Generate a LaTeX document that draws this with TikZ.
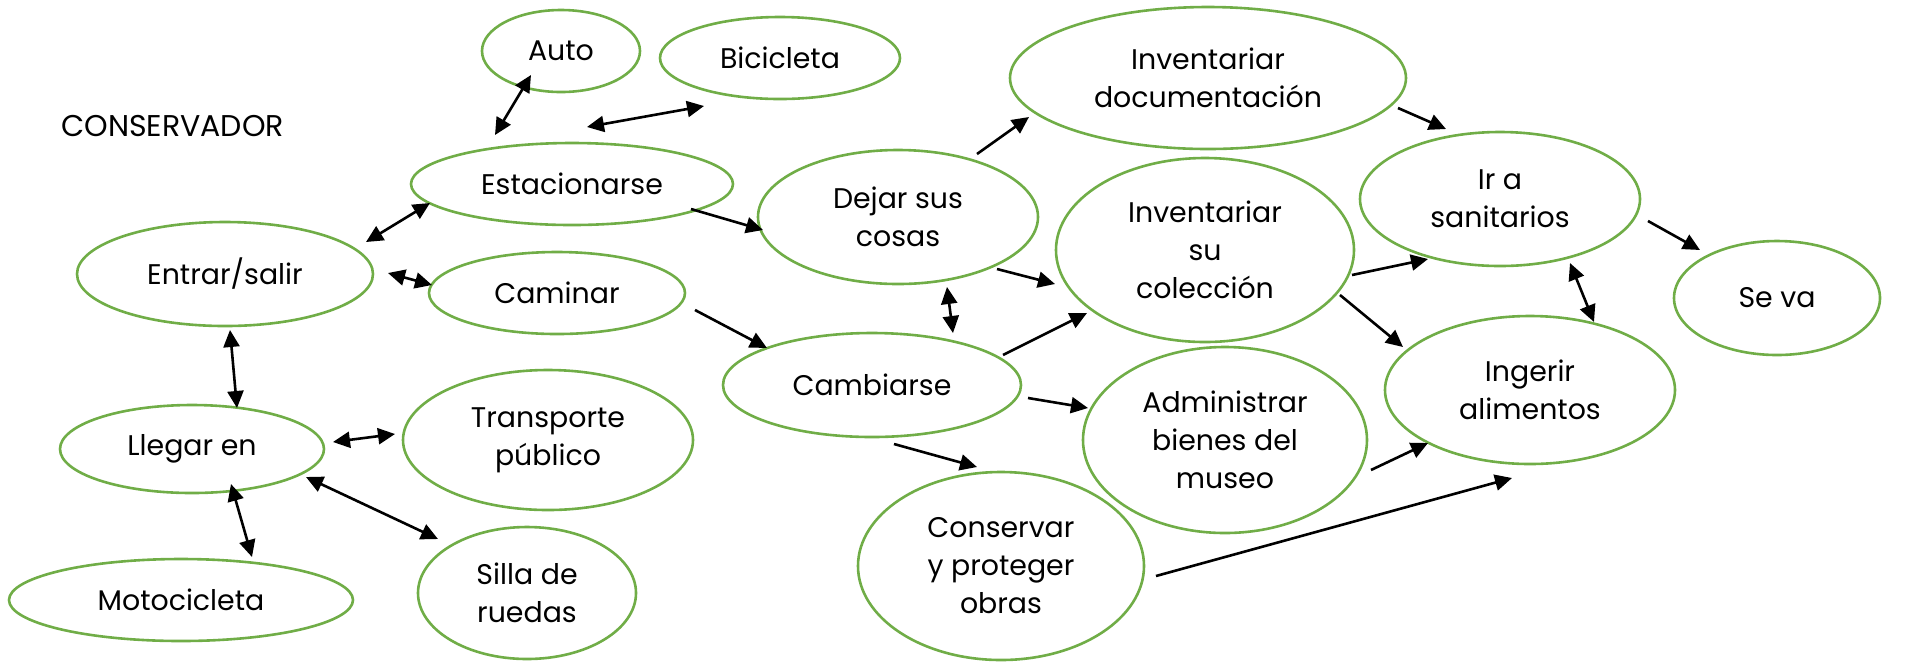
\documentclass[tikz,border=0pt]{standalone}
\usepackage{fontspec}
\setmainfont{Poppins}
\usetikzlibrary{arrows.meta,shapes.geometric}
\definecolor{egreen}{HTML}{70AD47}
\begin{document}
\begin{tikzpicture}[x=0.5pt,y=-0.5pt,
  el/.style={ellipse, draw=egreen, line width=1.3pt, inner sep=0pt, align=center,
             font=\fontsize{14.2}{19}\selectfont},
  lbl/.style={inner sep=0pt, font=\fontsize{15}{19}\selectfont},
  arr/.style={-{Triangle[length=8.5pt,width=8pt]}, line width=1.3pt},
  barr/.style={{Triangle[length=8.5pt,width=8pt]}-{Triangle[length=8.5pt,width=8pt]}, line width=1.3pt}]
\useasboundingbox (0,0) rectangle (1918,661);

\node[lbl, anchor=west] (title) at (61,126) {CONSERVADOR};

\node[el, minimum width=79pt,  minimum height=41pt] (auto)    at (561,51)   {Auto};
\node[el, minimum width=120pt, minimum height=41pt] (bici)    at (780,58)   {Bicicleta};
\node[el, minimum width=161pt, minimum height=41pt] (est)     at (572,184)  {Estacionarse};
\node[el, minimum width=148pt, minimum height=52pt] (entrar)  at (225,274)  {Entrar/salir};
\node[el, minimum width=128pt, minimum height=41pt] (caminar) at (557,293)  {Caminar};
\node[el, minimum width=140pt, minimum height=67pt] (dejar)   at (898,217)  {Dejar sus\\cosas};
\node[el, minimum width=198pt, minimum height=71pt] (invdoc)  at (1208,78)  {Inventariar\\documentación};
\node[el, minimum width=149pt, minimum height=92pt] (invcol)  at (1205,250) {Inventariar\\su\\colección};
\node[el, minimum width=140pt, minimum height=67pt] (ira)     at (1500,199) {Ir a\\sanitarios};
\node[el, minimum width=103pt, minimum height=57pt] (seva)    at (1777,298) {Se va};
\node[el, minimum width=149pt, minimum height=52pt] (camb)    at (872,385)  {Cambiarse};
\node[el, minimum width=142pt, minimum height=93pt] (admin)   at (1225,440) {Administrar\\bienes del\\museo};
\node[el, minimum width=145pt, minimum height=74pt] (ingerir) at (1530,390) {Ingerir\\alimentos};
\node[el, minimum width=143pt, minimum height=94pt] (cons)    at (1001,566) {Conservar\\y proteger\\obras};
\node[el, minimum width=132pt, minimum height=44pt] (llegar)  at (192,449)  {Llegar en};
\node[el, minimum width=145pt, minimum height=70pt] (transp)  at (548,440)  {Transporte\\público};
\node[el, minimum width=172pt, minimum height=41pt] (moto)    at (181,600)  {Motocicleta};
\node[el, minimum width=109pt, minimum height=66pt] (silla)   at (527,593)  {Silla de\\ruedas};

% connectors
\draw[barr] ([shift={(-77,-49)}]est.center)    -- ([shift={(-30,24)}]auto.center);
\draw[barr] ([shift={(15,-57)}]est.center)     -- ([shift={(-76,48)}]bici.center);
\draw[barr] ([shift={(141,-32)}]entrar.center) -- ([shift={(-142,19)}]est.center);
\draw[barr] ([shift={(163,-1)}]entrar.center)  -- ([shift={(-125,-8)}]caminar.center);
\draw[barr] ([shift={(5,56)}]entrar.center)    -- ([shift={(45,-41)}]llegar.center);
\draw[barr] ([shift={(141,-7)}]llegar.center)  -- ([shift={(-153,-6)}]transp.center);
\draw[barr] ([shift={(114,28)}]llegar.center)  -- ([shift={(-89,-54)}]silla.center);
\draw[barr] ([shift={(39,35)}]llegar.center)   -- ([shift={(71,-43)}]moto.center);
\draw[arr]  ([shift={(138,17)}]caminar.center) -- ([shift={(-105,-37)}]camb.center);
\draw[arr]  ([shift={(119,25)}]est.center)     -- ([shift={(-135,13)}]dejar.center);
\draw[arr]  ([shift={(79,-63)}]dejar.center)   -- ([shift={(-179,39)}]invdoc.center);
\draw[arr]  ([shift={(99,52)}]dejar.center)    -- ([shift={(-150,34)}]invcol.center);
\draw[barr] ([shift={(49,70)}]dejar.center)    -- ([shift={(81,-52)}]camb.center);
\draw[arr]  ([shift={(131,-30)}]camb.center)   -- ([shift={(-118,63)}]invcol.center);
\draw[arr]  ([shift={(156,13)}]camb.center)    -- ([shift={(-137,-32)}]admin.center);
\draw[arr]  ([shift={(22,59)}]camb.center)     -- ([shift={(-24,-99)}]cons.center);
\draw[arr]  ([shift={(190,30)}]invdoc.center)  -- ([shift={(-54,-70)}]ira.center);
\draw[arr]  ([shift={(147,25)}]invcol.center)  -- ([shift={(-72,60)}]ira.center);
\draw[arr]  ([shift={(135,45)}]invcol.center)  -- ([shift={(-127,-43)}]ingerir.center);
\draw[arr]  ([shift={(148,22)}]ira.center)     -- ([shift={(-77,-48)}]seva.center);
\draw[barr] ([shift={(70,64)}]ira.center)      -- ([shift={(64,-68)}]ingerir.center);
\draw[arr]  ([shift={(146,30)}]admin.center)   -- ([shift={(-102,53)}]ingerir.center);
\draw[arr]  ([shift={(155,10)}]cons.center)    -- ([shift={(-18,88)}]ingerir.center);
\end{tikzpicture}
\end{document}
